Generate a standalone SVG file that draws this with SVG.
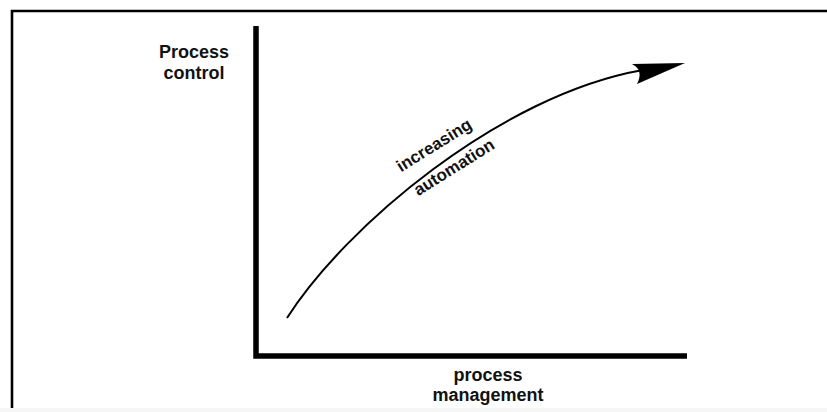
<svg xmlns="http://www.w3.org/2000/svg" width="827" height="412" viewBox="0 0 827 412">
<style>
text{font-family:"Liberation Sans",Arial,sans-serif;font-weight:bold;fill:#111}
.lbl{font-size:18px;text-anchor:middle}
.cur{font-size:17px;text-anchor:middle}
.axis{stroke:#000;stroke-width:5.5;fill:none}
</style>
<rect x="0" y="0" width="827" height="412" fill="#fff"/>
<rect x="0" y="408" width="827" height="4" fill="#f6f6f6"/>
<path d="M12,408 V11 H827" fill="none" stroke="#000" stroke-width="2.6"/>
<g id="axes">
<path class="axis" d="M256,26 V356 H687"/>
</g>
<g id="y-label"><text class="lbl" x="194" y="58">Process</text><text class="lbl" x="194" y="79">control</text></g>
<g id="x-label"><text class="lbl" x="488" y="381">process</text><text class="lbl" x="488" y="401">management</text></g>
<g id="connectors">
<path d="M287,318 C345,227 500,95 643,70" fill="none" stroke="#000" stroke-width="2"/>
<path d="M685,63 L632,64 Q644,70 637,84 Z" fill="#000"/>
</g>
<g id="curve-label">
<text class="cur" transform="translate(437,150) rotate(-32)">increasing</text>
<text class="cur" transform="translate(457,172) rotate(-32)">automation</text>
</g>
</svg>
